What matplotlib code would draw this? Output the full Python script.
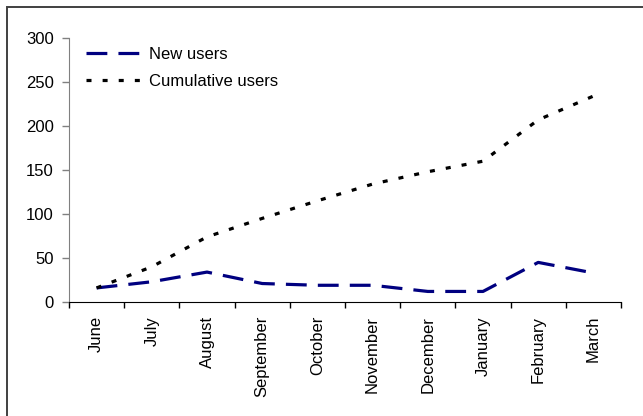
import matplotlib
matplotlib.use("Agg")
import matplotlib.pyplot as plt
from matplotlib.patches import Rectangle

plt.rcParams["font.family"] = ["Liberation Sans", "DejaVu Sans"]
plt.rcParams["lines.scale_dashes"] = False

months = ["June", "July", "August", "September", "October", "November",
          "December", "January", "February", "March"]
new_users = [16, 23, 34, 21, 19, 19, 12, 12, 45, 33]
cumulative_users = [16, 40, 74, 95, 115, 134, 148, 160, 207, 234]
y_ticks = [0, 50, 100, 150, 200, 250, 300]

W, H = 643, 416
fs = 12
fig = plt.figure(figsize=(W / 100, H / 100), dpi=100)
ax = fig.add_axes([69 / W, 1 - 302 / H, (621 - 69) / W, (302 - 38) / H])

x = [i + 0.5 for i in range(len(months))]
ax.plot(x, new_users, color="#000080", lw=2.3, dashes=(15, 8),
        label="New users", dash_capstyle="butt")
ax.plot(x, cumulative_users, color="black", lw=2.3, dashes=(3.6, 8),
        label="Cumulative users", dash_capstyle="butt")

ax.set_xlim(0, len(months))
ax.set_ylim(0, 300)
ax.set_yticks(y_ticks)
ax.set_xticks(range(len(months) + 1))
ax.set_xticklabels([])
ax.set_xticks(x, minor=True)
ax.set_xticklabels(months, minor=True, rotation=90, fontsize=fs,
                   va="top", ha="center")
ax.tick_params(axis="x", which="minor", length=0, pad=10)
ax.tick_params(axis="x", which="major", length=4, width=1, color="black",
               direction="out")
ax.tick_params(axis="y", length=5, width=1, color="#808080", labelsize=fs,
               pad=6)

for s in ("top", "right"):
    ax.spines[s].set_visible(False)
ax.spines["left"].set_color("#808080")
ax.spines["bottom"].set_color("black")

ax.legend(loc="upper left", frameon=False, fontsize=fs, handlelength=3.3,
          handletextpad=0.5, labelspacing=0.75,
          bbox_to_anchor=(0.0, 1.03), borderaxespad=0.6)

# chart border, its right and bottom edges fall outside the canvas
fig.patches.append(Rectangle((7 / W, -0.05), 1.2, 1 - 7 / H + 0.05,
                             transform=fig.transFigure, fill=False,
                             edgecolor="#404040", lw=1.4))

fig.savefig("out.png", dpi=100)
